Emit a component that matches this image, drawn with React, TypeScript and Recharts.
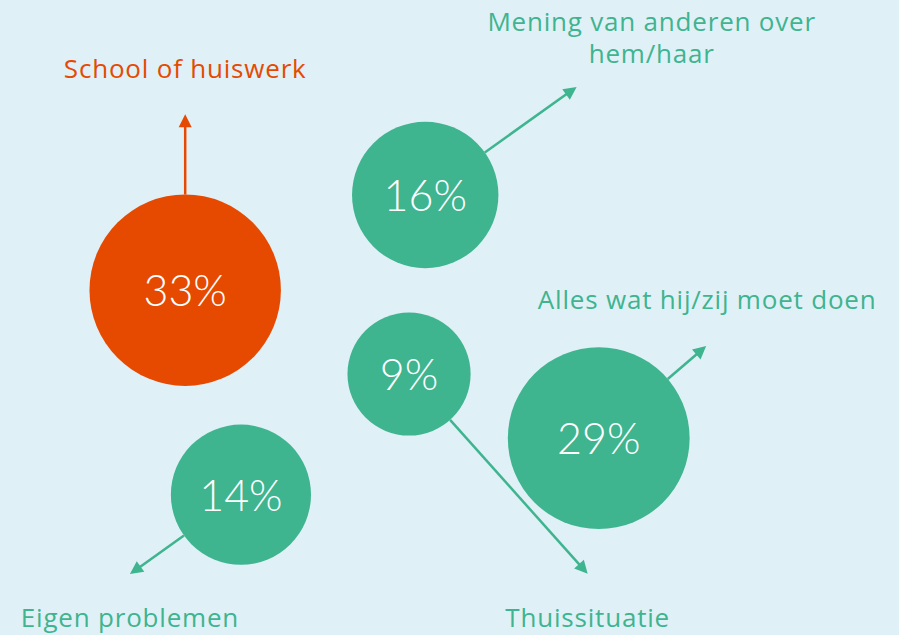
import { ScatterChart, Scatter, XAxis, YAxis, ZAxis } from "recharts";

// bubble chart: share of reasons, each bubble with an arrow to its label
const categories = [
  "School of huiswerk",
  "Mening van anderen over hem/haar",
  "Thuissituatie",
  "Alles wat hij/zij moet doen",
  "Eigen problemen",
];
const labelLines = [
  ["School of huiswerk"],
  ["Mening van anderen over", "hem/haar"],
  ["Thuissituatie"],
  ["Alles wat hij/zij moet doen"],
  ["Eigen problemen"],
];
const shares = [33, 16, 9, 29, 14];
// bubble positions on a 0-100 canvas (x right, y up)
const posX = [20.6, 47.3, 45.5, 66.6, 26.8];
const posY = [54.3, 69.3, 41.1, 31.0, 22.1];

const ORANGE = "#E54A00";
const GREEN = "#3EB48F";
const BG = "#E0F0F7";
const LABEL_FONT = "'Open Sans', sans-serif";
const PCT_FONT = "Lato, sans-serif";

// arrow direction (deg), tip distance from centre, label offset from tip
const arrowLayout = [
  { angle: -90, tip: 176, dx: 0, dy: -36 },
  { angle: -35.5, tip: 186, dx: 75, dy: -56 },
  { angle: 48.2, tip: 268, dx: 0, dy: 53 },
  { angle: -40.6, tip: 141.5, dx: 1, dy: -37 },
  { angle: 144.4, tip: 136.5, dx: 0, dy: 53 },
];

const data = categories.map((name, i) => ({
  name,
  idx: i,
  x: posX[i],
  y: posY[i],
  z: shares[i],
}));

function Bubble(props: any) {
  const { cx, cy, payload } = props;
  const size = props.size ?? 0;
  const r = props.width ? props.width / 2 : Math.sqrt(size / Math.PI);
  const i = payload.idx;
  const lay = arrowLayout[i];
  const color = i === 0 ? ORANGE : GREEN;
  const a = (lay.angle * Math.PI) / 180;
  const ux = Math.cos(a);
  const uy = Math.sin(a);
  const sx = cx + ux * r;
  const sy = cy + uy * r;
  const tx = cx + ux * lay.tip;
  const ty = cy + uy * lay.tip;
  const headL = 13;
  const headW = 6.5;
  const bx = tx - ux * headL;
  const by = ty - uy * headL;
  const head = `${tx},${ty} ${bx - uy * headW},${by + ux * headW} ${bx + uy * headW},${by - ux * headW}`;

  return (
    <g>
      <line x1={sx} y1={sy} x2={bx + ux * 2} y2={by + uy * 2} stroke={color} strokeWidth={2.5} />
      <polygon points={head} fill={color} />
      <circle cx={cx} cy={cy} r={r} fill={color} />
      <text
        x={cx}
        y={cy + 16}
        textAnchor="middle"
        fill="#fff"
        fontSize={43}
        fontWeight={300}
        fontFamily={PCT_FONT}
      >
        {shares[i]}%
      </text>
      <text
        x={tx + lay.dx}
        y={ty + lay.dy}
        textAnchor="middle"
        fill={color}
        fontSize={26}
        letterSpacing={0.8}
        fontFamily={LABEL_FONT}
      >
        {labelLines[i].map((line, k) => (
          <tspan key={k} x={tx + lay.dx} dy={k === 0 ? 0 : 32.5}>
            {line}
          </tspan>
        ))}
      </text>
    </g>
  );
}

export default function App() {
  return (
    <div
      style={{
        position: "absolute",
        left: 0,
        top: 0,
        width: 899,
        height: 635,
        background: BG,
        overflow: "hidden",
      }}
    >
      <ScatterChart width={899} height={635} margin={{ top: 0, right: 0, bottom: 0, left: 0 }}>
        <XAxis type="number" dataKey="x" domain={[0, 100]} hide />
        <YAxis type="number" dataKey="y" domain={[0, 100]} hide />
        <ZAxis type="number" dataKey="z" domain={[9, 33]} range={[11910, 28771]} />
        <Scatter data={data} shape={Bubble} isAnimationActive={false} />
      </ScatterChart>
    </div>
  );
}
